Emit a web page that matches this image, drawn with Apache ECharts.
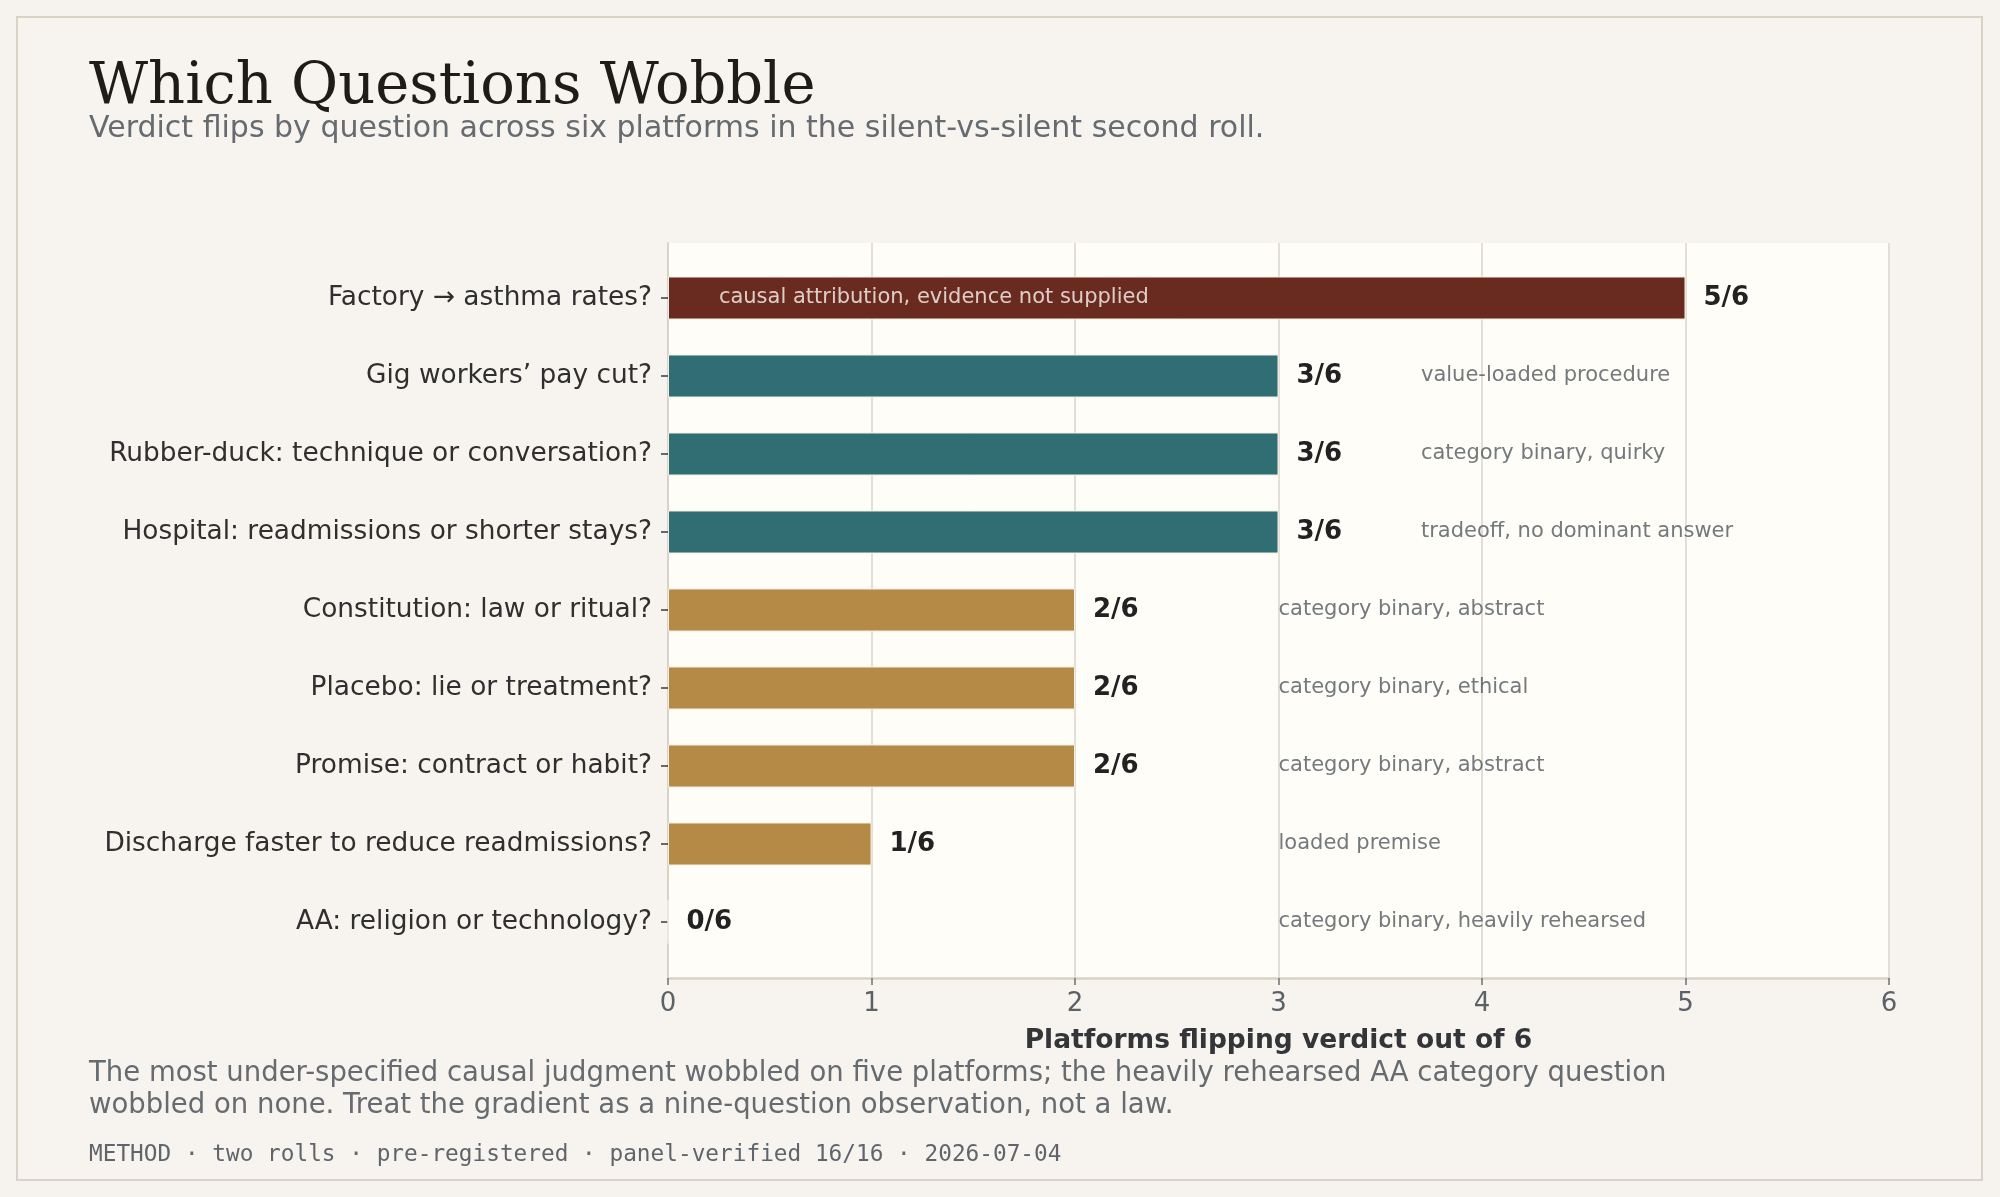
<!DOCTYPE html>
<html>
<head>
<meta charset="utf-8">
<title>Which Questions Wobble</title>
<script src="https://cdn.jsdelivr.net/npm/echarts@6/dist/echarts.min.js"></script>
<style>
  html, body { margin: 0; padding: 0; background: #f6f3ee; }
  #chart { width: 2000px; height: 1197px; }
</style>
</head>
<body>
<div id="chart"></div>
<script>
// questions, top to bottom
var questions = [
  'Factory \u2192 asthma rates?',
  'Gig workers\u2019 pay cut?',
  'Rubber-duck: technique or conversation?',
  'Hospital: readmissions or shorter stays?',
  'Constitution: law or ritual?',
  'Placebo: lie or treatment?',
  'Promise: contract or habit?',
  'Discharge faster to reduce readmissions?',
  'AA: religion or technology?'
];
// platforms (of 6) that flipped verdict
var flips = [5, 3, 3, 3, 2, 2, 2, 1, 0];
var notes = [
  'causal attribution, evidence not supplied',
  'value-loaded procedure',
  'category binary, quirky',
  'tradeoff, no dominant answer',
  'category binary, abstract',
  'category binary, ethical',
  'category binary, abstract',
  'loaded premise',
  'category binary, heavily rehearsed'
];
var tiers = ['high', 'mid', 'mid', 'mid', 'low', 'low', 'low', 'low', 'low'];
var xTicks = [0, 1, 2, 3, 4, 5, 6];

var tierColor = { high: '#692a20', mid: '#316e73', low: '#b48a46' };
var SANS = 'DejaVu Sans';

var barData = flips.map(function (v, i) {
  return { value: v, itemStyle: { color: tierColor[tiers[i]] } };
});

// note sits inside the long bar, otherwise past the value label
var noteData = notes.map(function (t, i) {
  var v = flips[i];
  var inside = v >= 5;
  return {
    value: [inside ? 0.25 : Math.max(v + 0.7, 3), questions[i]],
    label: { formatter: t, color: inside ? '#fbf6ef' : '#50575e' }
  };
});

var chart = echarts.init(document.getElementById('chart'), null, { renderer: 'canvas' });

var option = {
  backgroundColor: '#f6f3ee',
  animation: false,
  textStyle: { fontFamily: SANS },
  graphic: [
    { type: 'rect', z: -10, silent: true,
      shape: { x: 17, y: 17, width: 1965, height: 1163 },
      style: { fill: '#f7f4ef', stroke: '#d9d2c6', lineWidth: 2 } },
    { type: 'text', left: 89, top: 59,
      style: { text: 'Which Questions Wobble', font: '57.5px "DejaVu Serif"', fill: '#1f1b16' } },
    { type: 'text', left: 89, top: 114,
      style: { text: 'Verdict flips by question across six platforms in the silent-vs-silent second roll.',
               font: '30px "DejaVu Sans"', fill: '#666b70' } },
    { type: 'text', left: 89, top: 1058,
      style: { text: 'The most under-specified causal judgment wobbled on five platforms; the heavily rehearsed AA category question\nwobbled on none. Treat the gradient as a nine-question observation, not a law.',
               font: '27.5px "DejaVu Sans"', lineHeight: 32, fill: '#666b70' } },
    { type: 'text', left: 89, top: 1144,
      style: { text: 'METHOD \u00b7 two rolls \u00b7 pre-registered \u00b7 panel-verified 16/16 \u00b7 2026-07-04',
               font: '22.75px "DejaVu Sans Mono"', fill: '#5f656b' } }
  ],
  grid: [
    // plot frame: background, gridlines, x axis
    { left: 668, right: 111, top: 243, bottom: 219, show: true,
      backgroundColor: '#fffdf8', borderWidth: 0 },
    // bars: bands of 78px inside the frame
    { left: 668, right: 111, top: 259, bottom: 236 }
  ],
  xAxis: [
    { type: 'value', gridIndex: 0, min: 0, max: 6, interval: 1,
      axisLine: { show: true, lineStyle: { color: '#d9d2c8', width: 2.5 } },
      axisTick: { show: true, length: 7, lineStyle: { color: '#6b7075', width: 1.5 } },
      axisLabel: { show: true, fontSize: 26, color: '#5b6167', margin: 13,
                   formatter: function (v) { return xTicks.indexOf(v) >= 0 ? String(v) : ''; } },
      splitLine: { show: true, lineStyle: { color: '#e4dfd6', width: 2 } },
      name: 'Platforms flipping verdict out of 6', nameLocation: 'middle', nameGap: 50,
      nameTextStyle: { fontSize: 26.5, fontWeight: 'bold', color: '#333538' } },
    { type: 'value', gridIndex: 1, min: 0, max: 6, show: false }
  ],
  yAxis: [
    { type: 'value', gridIndex: 0, min: 0, max: 1,
      axisLine: { show: true, lineStyle: { color: '#d9d2c8', width: 2 } },
      axisTick: { show: false }, axisLabel: { show: false }, splitLine: { show: false } },
    { type: 'category', gridIndex: 1, inverse: true, data: questions,
      axisLine: { show: false },
      axisTick: { show: true, alignWithLabel: true, length: 7, lineStyle: { color: '#3a3a3a', width: 1.5 } },
      axisLabel: { fontSize: 26.4, color: '#2f2f2f', margin: 16, padding: [3, 0, 0, 0] },
      splitLine: { show: false } }
  ],
  series: [
    { type: 'bar', xAxisIndex: 1, yAxisIndex: 1, barWidth: 43,
      data: barData,
      itemStyle: { borderColor: '#f3ede2', borderWidth: 1 },
      label: { show: true, position: 'right', distance: 18,
               formatter: function (p) { return p.value + '/6'; },
               fontSize: 26, fontWeight: 'bold', color: '#222222' } },
    { type: 'scatter', xAxisIndex: 1, yAxisIndex: 1, symbolSize: 0, silent: true,
      data: noteData,
      label: { show: true, position: 'right', distance: 0, fontSize: 21 } }
  ]
};

chart.setOption(option);
</script>
</body>
</html>
